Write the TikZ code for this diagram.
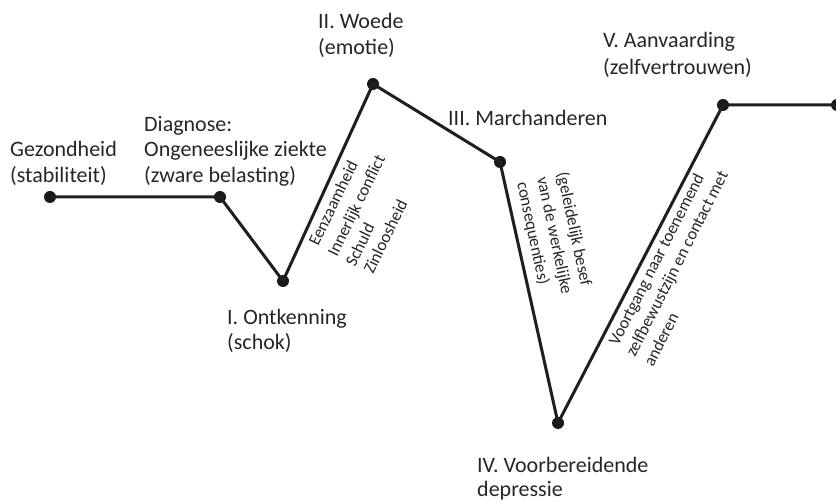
\documentclass[tikz,border=0pt]{standalone}
\usepackage{fontspec}
\setmainfont{Carlito}
\begin{document}
\begin{tikzpicture}[x=1pt,y=-1pt,
  lbl/.style={anchor=base west, inner sep=0pt, font=\fontsize{22}{26}\selectfont, text=black!85},
  rlbl/.style={anchor=base west, inner sep=0pt, font=\fontsize{17}{21}\selectfont, text=black!85},
  dot/.style={circle, fill=black!90, inner sep=0pt, minimum size=12pt},
  curve/.style={line width=3pt, black!88, line join=round},
  shade/.style={line width=4pt, black!20, line join=round}]
\useasboundingbox (0,0) rectangle (836,502);
% points
\node[dot] (p1) at (50,197) {};
\node[dot] (p2) at (220,197) {};
\node[dot] (p3) at (283,281) {};
\node[dot] (p4) at (373,84) {};
\node[dot] (p5) at (500,162) {};
\node[dot] (p6) at (558,423) {};
\node[dot] (p7) at (723,105) {};
\node[dot] (p8) at (837,105) {};
\begin{scope}[on background layer/.try]
\end{scope}
\draw[curve] (p1.center) -- (p2.center) -- (p3.center) -- (p4.center) -- (p5.center) -- (p6.center) -- (p7.center) -- (p8.center);
% horizontal labels
\node[lbl] (l1a) at (10,157) {Gezondheid};
\node[lbl] (l1b) at (10,183) {(stabiliteit)};
\node[lbl] (l2a) at (144,132) {Diagnose:};
\node[lbl] (l2b) at (144,157) {Ongeneeslijke ziekte};
\node[lbl] (l2c) at (144,183) {(zware belasting)};
\node[lbl] (l3a) at (227,325) {I. Ontkenning};
\node[lbl] (l3b) at (227,350) {(schok)};
\node[lbl] (l4a) at (318,29) {II. Woede};
\node[lbl] (l4b) at (318,55) {(emotie)};
\node[lbl] (l5a) at (448,126) {III. Marchanderen};
\node[lbl] (l6a) at (477,473) {IV. Voorbereidende};
\node[lbl] (l6b) at (477,497) {depressie};
\node[lbl] (l7a) at (603,48) {V. Aanvaarding};
\node[lbl] (l7b) at (603,75) {(zelfvertrouwen)};
% rotated labels
\node[rlbl, rotate=64] (ra1) at (318,247) {Eenzaamheid};
\node[rlbl, rotate=64] (ra2) at (337,258) {Innerlijk conflict};
\node[rlbl, rotate=64] (ra3) at (355,268) {Schuld};
\node[rlbl, rotate=64] (ra4) at (373,275) {Zinloosheid};
\node[rlbl, rotate=-78] (rb1) at (557,173) {(geleidelijk besef};
\node[rlbl, rotate=-78] (rb2) at (537,178) {van de werkelijke};
\node[rlbl, rotate=-78] (rb3) at (517,183) {consequenties)};
\node[rlbl, rotate=63] (rc1) at (618,347) {Voortgang naar toenemend};
\node[rlbl, rotate=63] (rc2) at (635,358) {zelfbewustzijn en contact met};
\node[rlbl, rotate=63] (rc3) at (653,368) {anderen};
\end{tikzpicture}
\end{document}
